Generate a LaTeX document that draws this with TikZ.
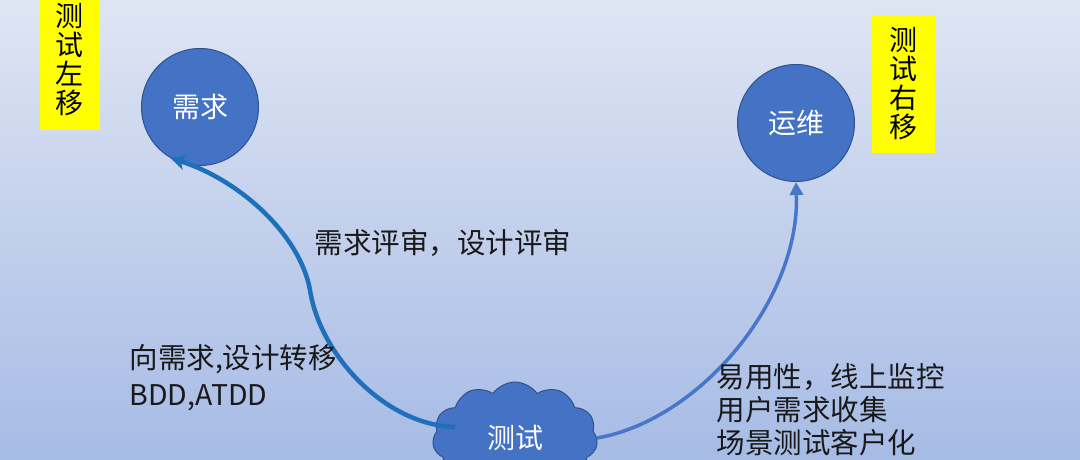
\documentclass[tikz,border=0pt]{standalone}
\usepackage{fontspec}
\usepackage{xcolor}
\usetikzlibrary{shapes.symbols,arrows.meta}
\setmainfont{Noto Sans CJK SC}
\definecolor{bgtop}{RGB}{223,229,243}
\definecolor{bgbot}{RGB}{166,187,229}
\definecolor{nodefill}{RGB}{68,114,196}
\definecolor{nodeline}{RGB}{47,82,143}
\definecolor{leftblue}{RGB}{30,112,186}
\definecolor{rightblue}{RGB}{72,118,200}
\definecolor{hilite}{RGB}{255,255,0}
\newcommand*{\bigfont}{\fontsize{28.5}{33}\selectfont}

\begin{document}
\begin{tikzpicture}[x=1pt,y=-1pt,
    stage/.style={circle, fill=nodefill, draw=nodeline, line width=1pt,
        minimum size=117, text=white, font=\fontsize{28}{33}\selectfont},
    tag/.style={fill=hilite, text=black, align=center,
        font=\fontsize{28}{29}\selectfont, inner sep=0pt},
    note/.style={anchor=west, align=left, text=black!90, font=\bigfont},
    leftarrow/.style={leftblue, line width=4.5pt, -{Stealth[length=15pt,width=15pt,inset=4pt]}},
    rightarrow/.style={rightblue, line width=3.5pt, -{Triangle[length=13pt,width=13pt]}}]
    \clip (0,0) rectangle (1080,460);
    \shade[top color=bgtop, bottom color=bgbot] (0,0) rectangle (1080,460);
    % shift labels
    \node[tag, minimum width=60, minimum height=140] (shiftl) at (70,60) {测\\试\\左\\移};
    \node[tag, minimum width=63, minimum height=138] (shiftr) at (903,84) {测\\试\\右\\移};
    % stages
    \node[stage] (req) at (200,107) {需求};
    \node[stage] (ops) at (796,123) {运维};
    \node[cloud, cloud puffs=11, cloud puff arc=110, cloud ignores aspect,
        minimum width=165, minimum height=112, fill=nodefill, draw=nodeline,
        line width=1pt, text=white, font=\fontsize{28}{33}\selectfont] (test) at (515,438) {测试};
    \coordinate (ls) at (455,427);
    \coordinate (bend) at (310,290);
    \draw[leftarrow] (ls) .. controls (385,425) and (320,355) .. (bend)
        .. controls (300,235) and (240,180) .. (req.240);
    \draw[rightarrow] (test.east) .. controls (700,420) and (800,300) .. (ops.south);
    % notes
    \node[note] (review) at (311,243) {需求评审，设计评审};
    \node[note, font=\fontsize{28.5}{37}\selectfont] (leftnote) at (126,378) {向需求,设计转移\\BDD,ATDD};
    \node[note] (rightnote) at (713,410) {易用性，线上监控\\用户需求收集\\场景测试客户化};
\end{tikzpicture}
\end{document}
